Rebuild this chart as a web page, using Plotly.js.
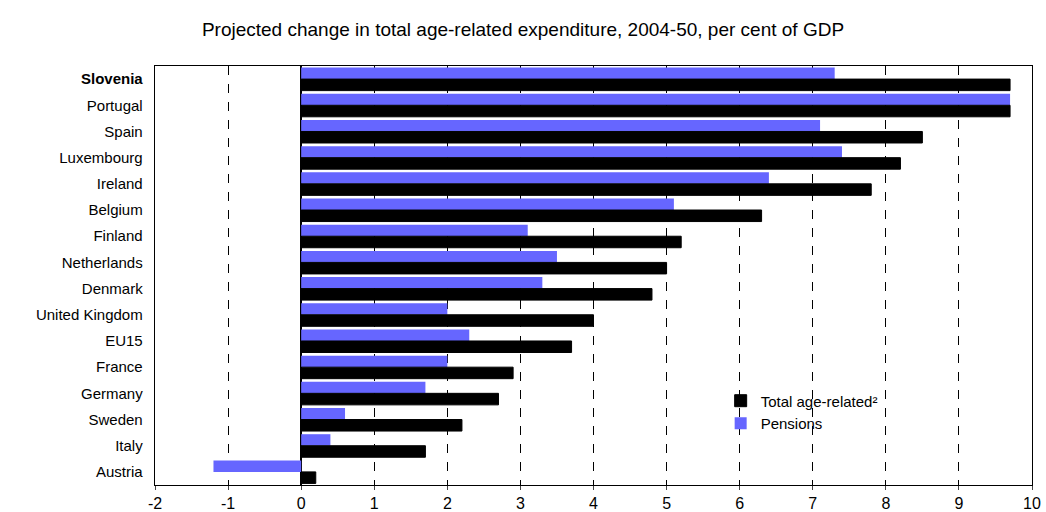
<!DOCTYPE html>
<html><head><meta charset="utf-8">
<script src="https://cdn.plot.ly/plotly-3.0.1.min.js"></script>
<style>body{margin:0;background:#fff}</style>
</head><body>
<div id="chart" style="width:1046px;height:512px"></div>
<script>
var countries = ["<b>Slovenia</b>", "Portugal", "Spain", "Luxembourg", "Ireland", "Belgium", "Finland",
  "Netherlands", "Denmark", "United Kingdom", "EU15", "France", "Germany", "Sweden", "Italy", "Austria"];
var totalAge = [9.7, 9.7, 8.5, 8.2, 7.8, 6.3, 5.2, 5.0, 4.8, 4.0, 3.7, 2.9, 2.7, 2.2, 1.7, 0.2];
var pensions = [7.3, 9.7, 7.1, 7.4, 6.4, 5.1, 3.1, 3.5, 3.3, 2.0, 2.3, 2.0, 1.7, 0.6, 0.4, -1.2];
var xTickVals = [-2, -1, 0, 1, 2, 3, 4, 5, 6, 7, 8, 9, 10];
var xTickText = ["-2", "-1", "0", "1", "2", "3", "4", "5", "6", "7", "8", "9", "10"];

var data = [
  {type: 'bar', orientation: 'h', name: 'Pensions', y: countries, x: pensions,
   marker: {color: '#6666ff', line: {color: '#000', width: 0}}},
  {type: 'bar', orientation: 'h', name: 'Total age-related²', y: countries, x: totalAge,
   marker: {color: '#000000', line: {color: '#000', width: 1}}}
];

var layout = {
  width: 1046, height: 512,
  font: {family: 'Arial, Liberation Sans, sans-serif', size: 15, color: '#000'},
  title: {text: 'Projected change in total age-related expenditure, 2004-50, per cent of GDP',
          x: 0.5, y: 0.955, font: {size: 19}},
  margin: {l: 155, r: 14, t: 66, b: 27},
  barmode: 'group', bargap: 0.12, bargroupgap: 0,
  xaxis: {range: [-2, 10], tickvals: xTickVals, ticktext: xTickText, showgrid: true, gridcolor: '#000',
          griddash: 'dash', gridwidth: 1, zeroline: true, zerolinecolor: '#000', zerolinewidth: 2,
          ticks: 'outside', ticklen: 4, showline: true, mirror: true, linecolor: '#000',
          tickfont: {size: 16}},
  yaxis: {autorange: 'reversed', showline: true, mirror: true, linecolor: '#000', ticks: '',
          ticksuffix: '  ', tickfont: {size: 15}},
  legend: {x: 0.645, y: 0.24, xanchor: 'left', yanchor: 'top', traceorder: 'reversed',
           font: {size: 15}, bgcolor: 'rgba(0,0,0,0)', tracegroupgap: 14},
  showlegend: true
};
Plotly.newPlot('chart', data, layout, {displayModeBar: false});
</script>
</body></html>
